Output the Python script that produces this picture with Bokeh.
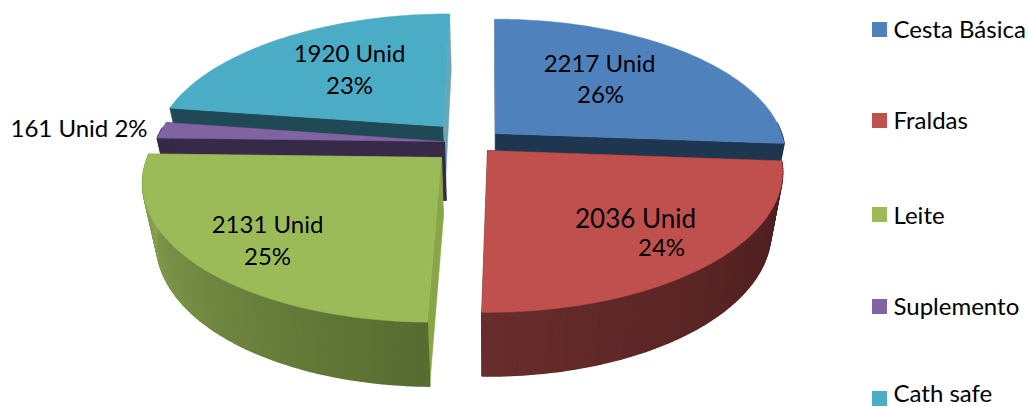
import math
from bokeh.plotting import figure
from bokeh.embed import file_html
from bokeh.resources import INLINE
from bokeh.core.properties import value

categories = ["Cesta Básica", "Fraldas", "Leite", "Suplemento", "Cath safe"]
units = [2217, 2036, 2131, 161, 1920]
percents = [26, 24, 25, 2, 23]

top_colors = ["#4f81bd", "#c0504d", "#9bbb59", "#8064a2", "#4bacc6"]
start_faces = ["#3f5f85", "#4f1f1f", "#88a548", "#362a48", "#1f4a55"]
end_faces = ["#1f3651", "#4f1f1f", "#88a548", "#362a48", "#6aa5b8"]
wall_from = ["#1f3651", "#4b1d1d", "#8ca552", "#362a48", "#1f4a55"]
wall_to = ["#1f3651", "#682c2c", "#566b30", "#362a48", "#1f4a55"]
apexes = [(495, 133), (487, 150), (441, 157), (444, 141), (443, 126)]

XV, YV = 490, 142
RX, RY, K = 289, 134.4, 0.00114
M, DZ = 0.96, 59

W, H = 1028, 407
p = figure(width=W, height=H, x_range=(0, W), y_range=(H, 0),
           output_backend="svg", toolbar_location=None, min_border=0)
p.axis.visible = False
p.grid.visible = False
p.outline_line_color = None


def to_world(ax, ay):
    y = ay - YV
    s = 1 + K * y
    return (ax - XV) / s, y / s


def project(wx, wy, low=False):
    s = 1 / (1 - K * wy)
    if low:
        return XV + wx * s * M, YV + wy * s * M + DZ * s
    return XV + wx * s, YV + wy * s


def mix(a, b, t):
    ca = [int(a[i:i + 2], 16) for i in (1, 3, 5)]
    cb = [int(b[i:i + 2], 16) for i in (1, 3, 5)]
    return "#%02x%02x%02x" % tuple(round(u + (v - u) * t) for u, v in zip(ca, cb))


total = sum(units)
angle = 0.0
spans = []
for u in units:
    spans.append((angle, angle + 360 * u / total))
    angle += 360 * u / total


def rim(w0, t):
    r = math.radians(t)
    return w0[0] + RX * math.sin(r), w0[1] - RY * math.cos(r)


for i in [4, 3, 0, 1, 2]:
    t0, t1 = spans[i]
    w0 = to_world(*apexes[i])
    n = max(2, int((t1 - t0) / 1.0))
    ts = [t0 + (t1 - t0) * j / n for j in range(n + 1)]
    # cut faces
    for t, fc in ((t0, start_faces[i]), (t1, end_faces[i])):
        a = project(*w0)
        b = project(*rim(w0, t))
        c = project(*rim(w0, t), low=True)
        d = project(*w0, low=True)
        p.patch([a[0], b[0], c[0], d[0]], [a[1], b[1], c[1], d[1]],
                fill_color=fc, line_color=fc, line_width=0.5)
    # outer wall: only the part that faces the viewer
    for j in range(n):
        if math.cos(math.radians(ts[j])) > 0.1:
            continue
        w_a, w_b = rim(w0, ts[j]), rim(w0, ts[j + 1])
        q = [project(*w_a), project(*w_b), project(*w_b, low=True), project(*w_a, low=True)]
        col = wall_from[i]
        if i == 2:
            col = mix(wall_from[i], wall_to[i], (270 - ts[j]) / 90)
        if i == 1:
            col = mix(wall_from[i], wall_to[i], (ts[j] - 95) / 85)
        p.patch([k[0] for k in q], [k[1] for k in q], fill_color=col, line_color=col, line_width=1.6)
    # top surface
    pts = [project(*w0)] + [project(*rim(w0, t)) for t in ts]
    p.patch([k[0] for k in pts], [k[1] for k in pts], fill_color=top_colors[i],
            line_color=top_colors[i], line_width=0.5)

FONT = value("Lato")
label_pos = [((599, 62), (600, 93)), ((635, 217), (661, 246)), ((267, 223), (267, 255)), None, ((349, 52), (349, 84))]
for i, pos in enumerate(label_pos):
    if pos is None:
        continue
    size = "26px" if i == 1 else "24px"
    p.text([pos[0][0]], [pos[0][1]], text=[f"{units[i]} Unid"], text_font=FONT, text_font_size=size,
           text_align="center", text_baseline="middle", text_color="#000000")
    p.text([pos[1][0]], [pos[1][1]], text=[f"{percents[i]}%"], text_font=FONT, text_font_size="24px",
           text_align="center", text_baseline="middle", text_color="#000000")
p.text([10], [127], text=[f"{units[3]} Unid {percents[3]}%"], text_font=FONT, text_font_size="24px",
       text_align="left", text_baseline="middle", text_color="#000000")

legend_y = [29, 120, 214, 306, 398]
text_y = [28, 119, 214, 305, 392]
p.scatter([879] * 5, legend_y, marker="square", size=15, fill_color=top_colors, line_color=None)
p.text([893] * 5, text_y, text=categories, text_font=FONT, text_font_size="24px",
       text_align="left", text_baseline="middle", text_color="#000000")

open("out.html", "w").write(file_html(p, INLINE))
